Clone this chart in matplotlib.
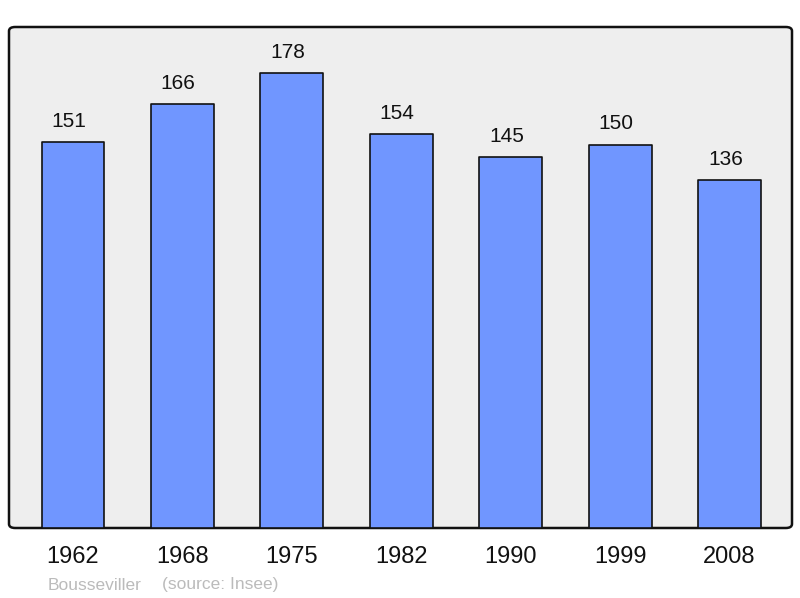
import matplotlib.pyplot as plt
from matplotlib.patches import FancyBboxPatch

years = ["1962", "1968", "1975", "1982", "1990", "1999", "2008"]
population = [151, 166, 178, 154, 145, 150, 136]

plt.rcParams["font.family"] = ["Liberation Sans", "DejaVu Sans"]

fig = plt.figure(figsize=(8, 5.98), dpi=100)
ax = fig.add_axes([9 / 800, 70 / 598, 783 / 800, 501 / 598])
ax.set_facecolor("none")

# rounded frame with light grey fill
frame = FancyBboxPatch((0, 0), 1, 1, boxstyle="round,pad=0,rounding_size=0.008",
                       transform=ax.transAxes, facecolor="#eeeeee",
                       edgecolor="#111111", linewidth=1.8, clip_on=False, zorder=0)
ax.add_patch(frame)
for s in ax.spines.values():
    s.set_visible(False)

x = range(len(years))
bars = ax.bar(x, population, width=0.575, color="#7096ff", edgecolor="#111111",
              linewidth=1.2, zorder=2)
for b in bars:
    b.set_joinstyle("round")

for xi, v in zip(x, population):
    ax.annotate(str(v), (xi, v), xytext=(-3, 8), textcoords="offset points",
                ha="center", va="bottom", fontsize=15, color="#111111")

ax.set_xlim(-0.585, 6.57)
ax.set_ylim(0, 196)
ax.set_yticks([])
ax.set_xticks(list(x))
ax.set_xticklabels(years, fontsize=17, color="#111111")
ax.tick_params(axis="x", length=0, pad=13)

fig.text(48 / 800, 1 - 585 / 598, "Bousseviller", fontsize=12.5,
         color="#bbbbbb", va="center", ha="left")
fig.text(162 / 800, 1 - 585 / 598, "(source: Insee)", fontsize=12.5,
         color="#bbbbbb", va="center", ha="left")

fig.savefig("out.png", dpi=100)
